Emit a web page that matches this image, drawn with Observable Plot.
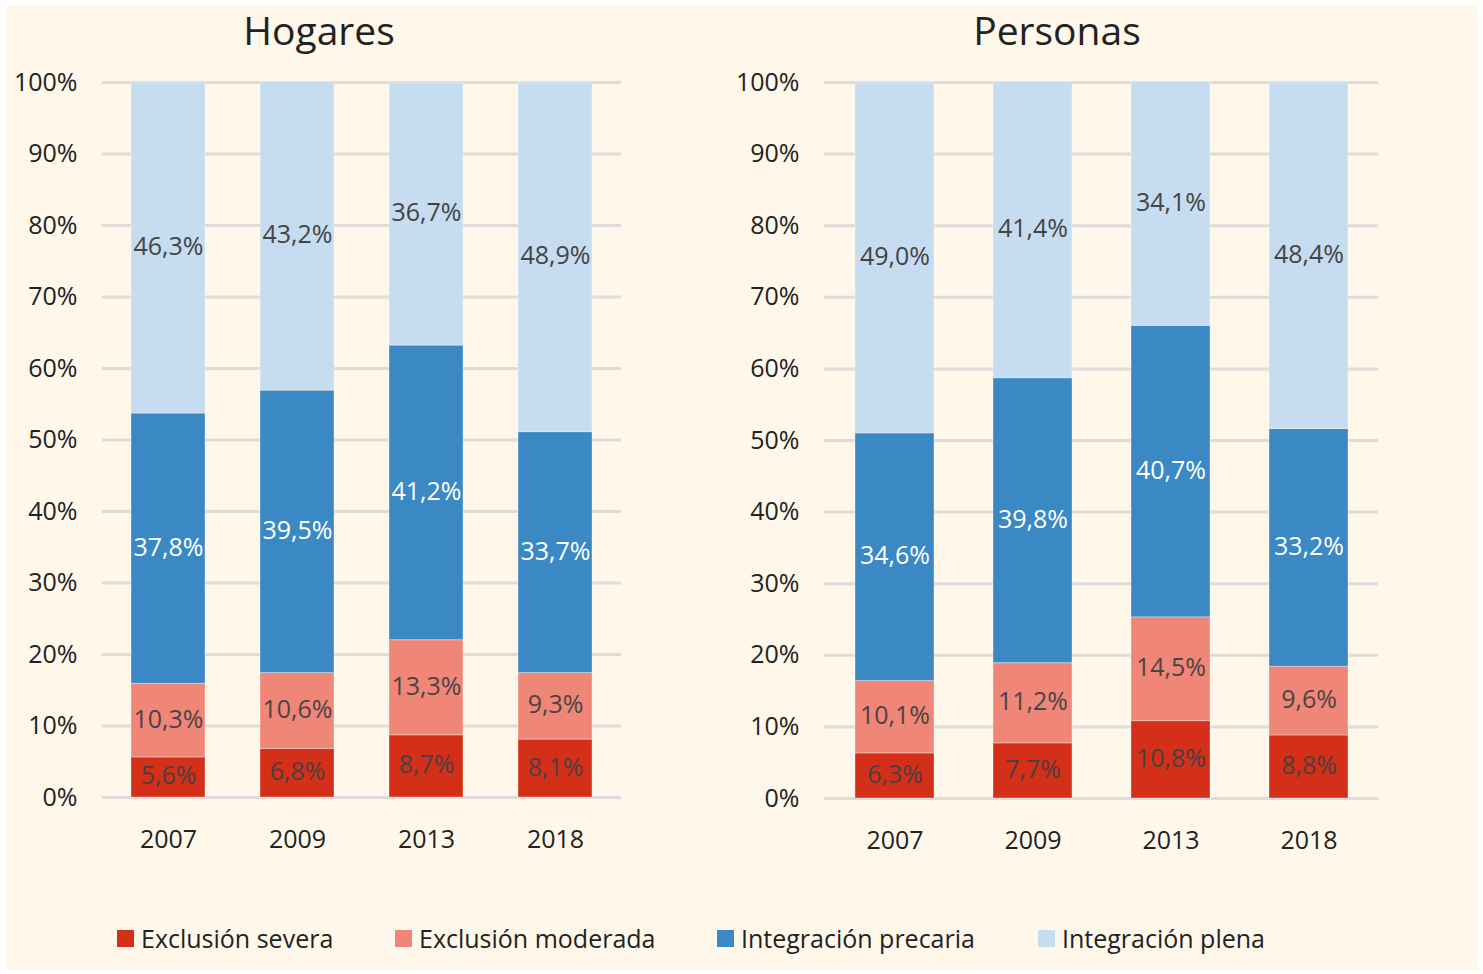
<!DOCTYPE html>
<html>
<head>
<meta charset="utf-8">
<script src="https://cdn.jsdelivr.net/npm/d3@7"></script>
<script src="https://cdn.jsdelivr.net/npm/@observablehq/plot@0.6"></script>
<style>
  html, body { margin: 0; padding: 0; background: #ffffff; }
  #wrap { position: relative; width: 1483px; height: 974px; overflow: hidden; font-family: "Open Sans", "Noto Sans", sans-serif; }
  #bg { position: absolute; left: 7px; top: 5px; width: 1471px; height: 965px; background: #fef7ea; }
  .title { position: absolute; top: 4px; font-size: 39px; color: #222; transform: translateX(-50%); white-space: nowrap; line-height: 52px; }
  .panel { position: absolute; top: 60px; }
  .leg { position: absolute; top: 921px; display: flex; align-items: center; font-size: 25px; color: #222; white-space: nowrap; line-height: 34px; }
  .sw { width: 17px; height: 17px; margin-right: 7px; display: inline-block; }
</style>
</head>
<body>
<div id="wrap">
  <div id="bg"></div>
  <div class="title" style="left:319px">Hogares</div>
  <div class="title" style="left:1057px">Personas</div>
  <div id="left" class="panel" style="left:0px"></div>
  <div id="right" class="panel" style="left:700px"></div>
  <div id="legend"></div>
</div>
<script>
const years = ["2007", "2009", "2013", "2018"];
const categories = ["Exclusión severa", "Exclusión moderada", "Integración precaria", "Integración plena"];
const colors = ["#d42f18", "#f08677", "#3a89c4", "#c6dcf0"];
const labelColors = ["#4a4040", "#4a4444", "#ffffff", "#444444"];
const yTicks = [0, 10, 20, 30, 40, 50, 60, 70, 80, 90, 100];

// values per category, in order of years
const hogaresSevera = [5.6, 6.8, 8.7, 8.1];
const hogaresModerada = [10.3, 10.6, 13.3, 9.3];
const hogaresPrecaria = [37.8, 39.5, 41.2, 33.7];
const hogaresPlena = [46.3, 43.2, 36.7, 48.9];

const personasSevera = [6.3, 7.7, 10.8, 8.8];
const personasModerada = [10.1, 11.2, 14.5, 9.6];
const personasPrecaria = [34.6, 39.8, 40.7, 33.2];
const personasPlena = [49.0, 41.4, 34.1, 48.4];

function buildRows(series) {
  const rows = [];
  series.forEach((vals, ci) => {
    vals.forEach((v, yi) => rows.push({year: years[yi], cat: categories[ci], value: v, lc: labelColors[ci]}));
  });
  return rows;
}

const fmt = v => v.toFixed(1).replace(".", ",") + "%";

function chart(rows, opts) {
  return Plot.plot({
    width: opts.width,
    height: 800,
    marginLeft: opts.marginLeft,
    marginRight: opts.marginRight,
    marginTop: 22,
    marginBottom: opts.marginBottom,
    style: {background: "transparent", fontFamily: '"Open Sans", "Noto Sans", sans-serif', fontSize: "25px", color: "#222", overflow: "visible"},
    x: {domain: years, paddingInner: 0.43, paddingOuter: 0.215, label: null, tickSize: 0, tickPadding: 33},
    y: {domain: [0, 100], ticks: yTicks, tickFormat: d => d + "%", label: null, tickSize: 0, tickPadding: 25},
    color: {domain: categories, range: colors},
    marks: [
      Plot.ruleY(yTicks, {stroke: "#dddcda", strokeWidth: 3}),
      Plot.barY(rows, {x: "year", y: "value", fill: "cat", z: "cat", order: categories, stroke: "#ffffff", strokeOpacity: 0.35, strokeWidth: 1}),
      Plot.text(rows, Plot.stackY({x: "year", y: "value", z: "cat", order: categories, text: d => fmt(d.value), fill: d => d.lc, fontSize: 25, dy: -1})),
    ]
  });
}

const hog = buildRows([hogaresSevera, hogaresModerada, hogaresPrecaria, hogaresPlena]);
const per = buildRows([personasSevera, personasModerada, personasPrecaria, personasPlena]);

document.getElementById("left").appendChild(chart(hog, {width: 660, marginLeft: 102, marginRight: 39, marginBottom: 63}));
document.getElementById("right").appendChild(chart(per, {width: 740, marginLeft: 124, marginRight: 62, marginBottom: 62}));

// legend
const legendX = [117, 395, 717, 1038];
const leg = document.getElementById("legend");
categories.forEach((c, i) => {
  const item = document.createElement("div");
  item.className = "leg";
  item.style.left = legendX[i] + "px";
  const sw = document.createElement("span");
  sw.className = "sw";
  sw.style.background = colors[i];
  const t = document.createElement("span");
  t.textContent = c;
  item.appendChild(sw);
  item.appendChild(t);
  leg.appendChild(item);
});
</script>
</body>
</html>
